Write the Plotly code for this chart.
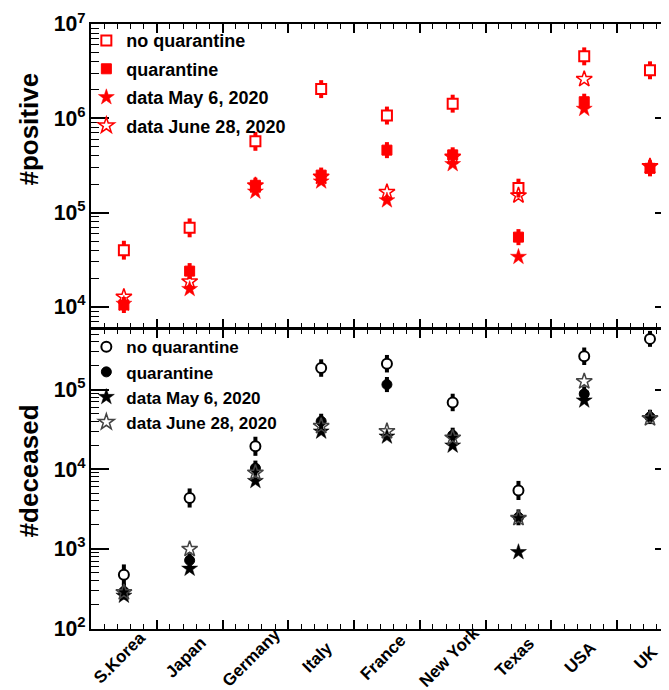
import plotly.graph_objects as go

# ---------------- data ----------------
countries = ["S.Korea", "Japan", "Germany", "Italy", "France",
             "New York", "Texas", "USA", "UK"]

# positives
pos_noq = [4.0e4, 6.9e4, 5.7e5, 2.04e6, 1.07e6, 1.43e6, 1.82e5, 4.54e6, 3.23e6]
pos_q = [1.05e4, 2.4e4, 1.95e5, 2.5e5, 4.6e5, 4.1e5, 5.5e4, 1.5e6, 2.95e5]
pos_may6 = [1.08e4, 1.55e4, 1.67e5, 2.14e5, 1.35e5, 3.27e5, 3.4e4, 1.26e6, None]
pos_jun28 = [1.28e4, 1.86e4, 1.94e5, 2.4e5, 1.65e5, 3.9e5, 1.52e5, 2.6e6, 3.1e5]
pos_noq_err = [0.1, 0.1, 0.1, 0.095, 0.095, 0.095, 0.1, 0.095, 0.095]   # log10 units
pos_q_err = [0.085, 0.085, 0.08, 0.08, 0.085, 0.08, 0.085, 0.085, 0.085]

# deceased
dec_noq = [470, 4340, 1.94e4, 1.87e5, 2.12e5, 6.9e4, 5.4e3, 2.63e5, 4.35e5]
dec_q = [290, 714, 1.03e4, 4.0e4, 1.16e5, 2.67e4, 2.48e3, 8.84e4, 4.54e4]
dec_may6 = [256, 560, 7.1e3, 2.97e4, 2.57e4, 1.98e4, 906, 7.3e4, None]
dec_jun28 = [282, 990, 9.0e3, 3.47e4, 3.0e4, 2.48e4, 2.42e3, 1.27e5, 4.35e4]
dec_noq_err = [0.13, 0.12, 0.12, 0.11, 0.11, 0.11, 0.12, 0.11, 0.1]
dec_q_err = [0.1, 0.1, 0.095, 0.095, 0.095, 0.095, 0.1, 0.095, 0.09]

legend_names = ["no quarantine", "quarantine", "data May 6, 2020", "data June 28, 2020"]

# ---------------- figure ----------------
FONT = "Liberation Sans"
xs = list(range(len(countries)))
fig = go.Figure()


def err_arrays(vals, lerr):
    plus = [v * (10 ** e - 1) if v is not None else None for v, e in zip(vals, lerr)]
    minus = [v * (1 - 10 ** -e) if v is not None else None for v, e in zip(vals, lerr)]
    return plus, minus


def add(vals, lerr, symbol, fill, color, name, xa, ya, legend, size, lw, group):
    kw = {}
    if lerr is not None:
        p, m = err_arrays(vals, lerr)
        kw["error_y"] = dict(type="data", symmetric=False, array=p, arrayminus=m,
                             color=color, thickness=4, width=0)
    fig.add_trace(go.Scatter(
        x=xs, y=vals, mode="markers", name=name, xaxis=xa, yaxis=ya,
        legend=legend, legendgroup=group,
        marker=dict(symbol=symbol, size=size, color=fill,
                    line=dict(color=color, width=lw)),
        **kw))


RED = "#ff0000"
BLK = "#000000"
# top panel (positives)
add(pos_noq, pos_noq_err, "square", "white", RED, legend_names[0], "x2", "y2", "legend", 10, 2, "a1")
add(pos_q, pos_q_err, "square", RED, RED, legend_names[1], "x2", "y2", "legend", 10, 1, "a2")
add(pos_may6, None, "star", RED, RED, legend_names[2], "x2", "y2", "legend", 12, 0.5, "a3")
add(pos_jun28, None, "star-open", RED, RED, legend_names[3], "x2", "y2", "legend", 12, 1.5, "a4")
# bottom panel (deceased)
add(dec_noq, dec_noq_err, "circle", "white", BLK, legend_names[0], "x", "y", "legend2", 10, 2, "b1")
add(dec_q, dec_q_err, "circle", BLK, BLK, legend_names[1], "x", "y", "legend2", 10, 1, "b2")
add(dec_may6, None, "star", BLK, BLK, legend_names[2], "x", "y", "legend2", 12, 0.5, "b3")
add(dec_jun28, None, "star-open", "#444444", "#444444", legend_names[3], "x", "y", "legend2", 12, 1.5, "b4")

tickfont = dict(family=FONT, size=17, color="black", weight="bold")

xcommon = dict(type="linear", range=[-0.5, 8.35], showgrid=False, zeroline=False,
               showline=True, linecolor="black", linewidth=2, mirror="ticks",
               ticks="inside", ticklen=9, tickwidth=1.5, tickcolor="black",
               tick0=-0.5, dtick=1, showticklabels=False,
               minor=dict(ticks="inside", ticklen=5, tickwidth=1.2, tickcolor="black",
                          tick0=-0.5, dtick=0.2))
ycommon = dict(type="log", showgrid=False, zeroline=False,
               showline=True, linecolor="black", linewidth=2, mirror="ticks",
               ticks="inside", ticklen=18, tickwidth=1.5, tickcolor="black",
               dtick=1, exponentformat="power", tickfont=tickfont,
               minor=dict(ticks="inside", ticklen=8, tickwidth=1.2, tickcolor="black",
                          dtick="D1"))

fig.update_layout(
    width=669, height=690,
    margin=dict(l=83, r=2, t=16, b=69),
    paper_bgcolor="white", plot_bgcolor="white",
    font=dict(family=FONT, color="black"),
    showlegend=True,
    xaxis=dict(**xcommon, anchor="y", domain=[0, 1]),
    yaxis=dict(**ycommon, anchor="x", domain=[0, 0.4959], range=[1.99, 5.763]),
    xaxis2=dict(**xcommon, anchor="y2", domain=[0, 1]),
    yaxis2=dict(**ycommon, anchor="x2", domain=[0.4975, 1], range=[3.777, 7]),
    legend=dict(x=-0.008, y=1.003, xanchor="left", yanchor="top",
                bgcolor="rgba(0,0,0,0)", borderwidth=0, tracegroupgap=2,
                itemwidth=30, traceorder="grouped",
                font=dict(family=FONT, size=18, color="black", weight="bold")),
    legend2=dict(x=-0.008, y=0.4955, xanchor="left", yanchor="top",
                 bgcolor="rgba(0,0,0,0)", borderwidth=0, tracegroupgap=0,
                 itemwidth=30, traceorder="grouped",
                 font=dict(family=FONT, size=17, color="black", weight="bold")),
)

annotations = []
for i, c in enumerate(countries):
    annotations.append(dict(x=i, xref="x", y=-0.058, yref="paper", text=c,
                            showarrow=False, textangle=-45,
                            xanchor="center", yanchor="middle",
                            xshift=-4, yshift=7,
                            font=dict(family=FONT, size=17, color="black", weight="bold")))
annotations.append(dict(x=-0.106, xref="paper", y=0.826, yref="paper", text="#positive",
                        showarrow=False, textangle=-90, xanchor="center", yanchor="middle",
                        font=dict(family=FONT, size=26, color="black", weight="bold")))
annotations.append(dict(x=-0.106, xref="paper", y=0.261, yref="paper", text="#deceased",
                        showarrow=False, textangle=-90, xanchor="center", yanchor="middle",
                        font=dict(family=FONT, size=26, color="black", weight="bold")))
fig.update_layout(annotations=annotations)

fig.write_html("out.html")
